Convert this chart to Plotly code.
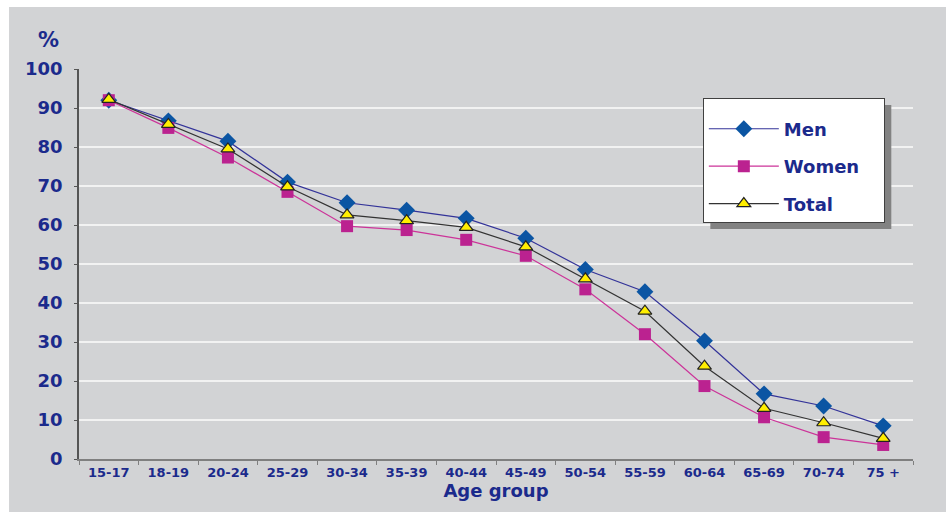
import plotly.graph_objects as go

age_groups = ["15-17", "18-19", "20-24", "25-29", "30-34", "35-39", "40-44",
              "45-49", "50-54", "55-59", "60-64", "65-69", "70-74", "75 +"]
men = [92.0, 86.7, 81.5, 71.0, 65.7, 63.8, 61.7, 56.6, 48.6, 42.9, 30.3, 16.7, 13.6, 8.5]
women = [92.0, 84.9, 77.3, 68.5, 59.7, 58.7, 56.2, 52.1, 43.5, 32.0, 18.7, 10.7, 5.6, 3.6]
total = [92.2, 85.8, 79.5, 69.8, 62.6, 61.1, 59.4, 54.4, 46.2, 37.9, 23.8, 13.0, 9.3, 5.3]
y_ticks = [0, 10, 20, 30, 40, 50, 60, 70, 80, 90, 100]

NAVY = "#1b2a8c"
BG = "#d2d3d5"
FONT = "DejaVu Sans"
xs = list(range(len(age_groups)))
PAD = "&nbsp;" * 3  # keeps some white space right of the legend labels

fig = go.Figure()
fig.add_trace(go.Scatter(
    x=xs, y=men, name="Men" + PAD, mode="lines+markers", legendgroup="m",
    line=dict(color="#333399", width=1.2),
    marker=dict(symbol="diamond", size=13, color="#0b55a3"),
))
fig.add_trace(go.Scatter(
    x=xs, y=women, name="Women" + PAD, mode="lines+markers", legendgroup="w",
    line=dict(color="#cc3399", width=1.2),
    marker=dict(symbol="square", size=12, color="#bb2290"),
))
fig.add_trace(go.Scatter(
    x=xs, y=total, name="Total" + PAD, mode="lines+markers", legendgroup="t",
    line=dict(color="#333333", width=1.2),
    marker=dict(symbol="triangle-up", size=12, color="#ffee00",
                line=dict(color="#222222", width=1.2)),
))

# grey panel behind everything
fig.add_shape(type="rect", xref="paper", yref="paper", layer="below",
              x0=-0.0839, x1=1.04, y0=-0.14, y1=1.159,
              fillcolor=BG, line=dict(width=0))
# legend drop shadow (sits above gridlines, under the legend box)
fig.add_shape(type="rect", xref="paper", yref="paper", layer="above",
              x0=0.757, x1=0.974, y0=0.590, y1=0.908,
              fillcolor="#828282", line=dict(width=0))

fig.add_annotation(text="<b>%</b>", xref="paper", yref="paper",
                   x=-0.037, y=1.074, xanchor="center", yanchor="middle",
                   showarrow=False,
                   font=dict(family=FONT, size=21, color=NAVY))

fig.update_layout(
    width=946, height=512,
    margin=dict(l=79, r=33, t=69, b=53),
    paper_bgcolor="white",
    plot_bgcolor=BG,
    font=dict(family=FONT, color=NAVY),
    showlegend=True,
    legend=dict(
        x=0.748, y=0.926, xanchor="left", yanchor="top",
        bgcolor="white", bordercolor="#404040", borderwidth=1,
        font=dict(family=FONT, size=18, color=NAVY, weight="bold"),
        title=dict(text="&nbsp;", font=dict(size=9)),
        tracegroupgap=11,
        itemwidth=70,
    ),
    xaxis=dict(
        range=[-0.5, 13.5],
        tickmode="array", tickvals=xs, ticktext=age_groups,
        ticks="", showgrid=False, zeroline=False,
        showline=True, linecolor="#7f7f7f", linewidth=2,
        tickfont=dict(family=FONT, size=13, color=NAVY, weight="bold"),
        minor=dict(tick0=-0.5, dtick=1, ticks="outside", ticklen=4,
                   tickcolor="#7f7f7f", showgrid=False),
        title=dict(text="Age group", standoff=6,
                   font=dict(family=FONT, size=18, color=NAVY, weight="bold")),
    ),
    yaxis=dict(
        range=[0, 100], tickmode="array", tickvals=y_ticks,
        showgrid=True, gridcolor="#f2f2f2", gridwidth=1.5,
        zeroline=False, showline=True, linecolor="#555555", linewidth=1.5,
        ticks="outside", ticklen=3, tickcolor="#555555",
        ticklabelstandoff=8,
        tickfont=dict(family=FONT, size=18, color=NAVY, weight="bold"),
    ),
)

fig.write_html("out.html")
